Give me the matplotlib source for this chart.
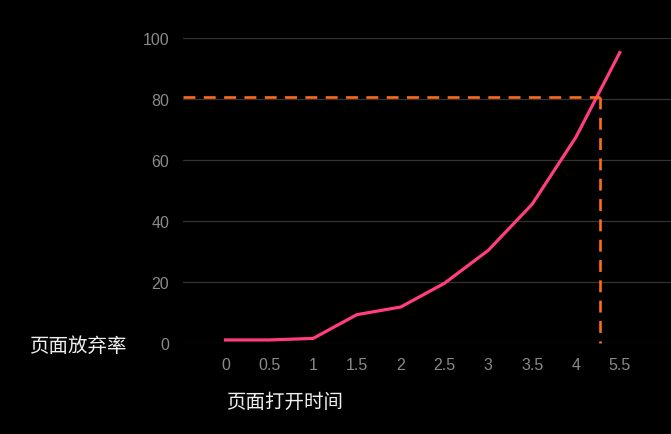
import matplotlib
matplotlib.use("Agg")
import matplotlib.pyplot as plt
import numpy as np

# page load time (category labels) vs. abandonment rate (%)
load_time = ["0", "0.5", "1", "1.5", "2", "2.5", "3", "3.5", "4", "5.5"]
abandon_rate = [1, 1, 1.5, 9.3, 11.8, 19.6, 30.4, 45.5, 67.5, 95.2]
threshold = 80.5
mark_x = 8.56   # where the vertical mark line sits (category index)
y_ticks = [0, 20, 40, 60, 80, 100]

plt.rcParams['font.family'] = ['Noto Sans CJK SC', 'DejaVu Sans']

fig = plt.figure(figsize=(6.71, 4.35), dpi=100, facecolor='black')
ax = fig.add_axes([183 / 671, 1 - 344 / 435, 1 - 183 / 671, (344 - 39) / 435])
ax.set_facecolor('black')

pos = np.arange(len(load_time))
ax.plot(pos, abandon_rate, color='#ff3d7f', lw=2.3, solid_joinstyle='round',
        clip_on=False, zorder=3)

ax.set_xlim(-0.97, 10.17)
ax.set_ylim(0, 100)
dash = dict(color='#ff6a1f', lw=1.9, ls=(0, (4.5, 3.2)), zorder=4, clip_on=False)
ax.plot([ax.get_xlim()[0], mark_x], [threshold, threshold], **dash)
ax.plot([mark_x, mark_x], [threshold, 0], **dash)

ax.set_yticks(y_ticks)
ax.set_xticks(pos)
ax.set_xticklabels(load_time)
ax.grid(axis='y', color='#333333', lw=0.9)
ax.set_axisbelow(True)
for s in ax.spines.values():
    s.set_visible(False)
ax.tick_params(axis='both', length=0, colors='#8a8a8a')
ax.tick_params(axis='x', pad=10)
ax.tick_params(axis='y', pad=10)
for lab in ax.get_xticklabels() + ax.get_yticklabels():
    lab.set_family(['Liberation Sans', 'DejaVu Sans'])
    lab.set_fontsize(11.5)

fig.text(127 / 671, 1 - 346 / 435, '页面放弃率', color='#f0f0f0', fontsize=14,
         ha='right', va='center')
fig.text(285 / 671, 1 - 402 / 435, '页面打开时间', color='#f0f0f0', fontsize=14,
         ha='center', va='center')

fig.savefig('out.png', dpi=100, facecolor='black')
